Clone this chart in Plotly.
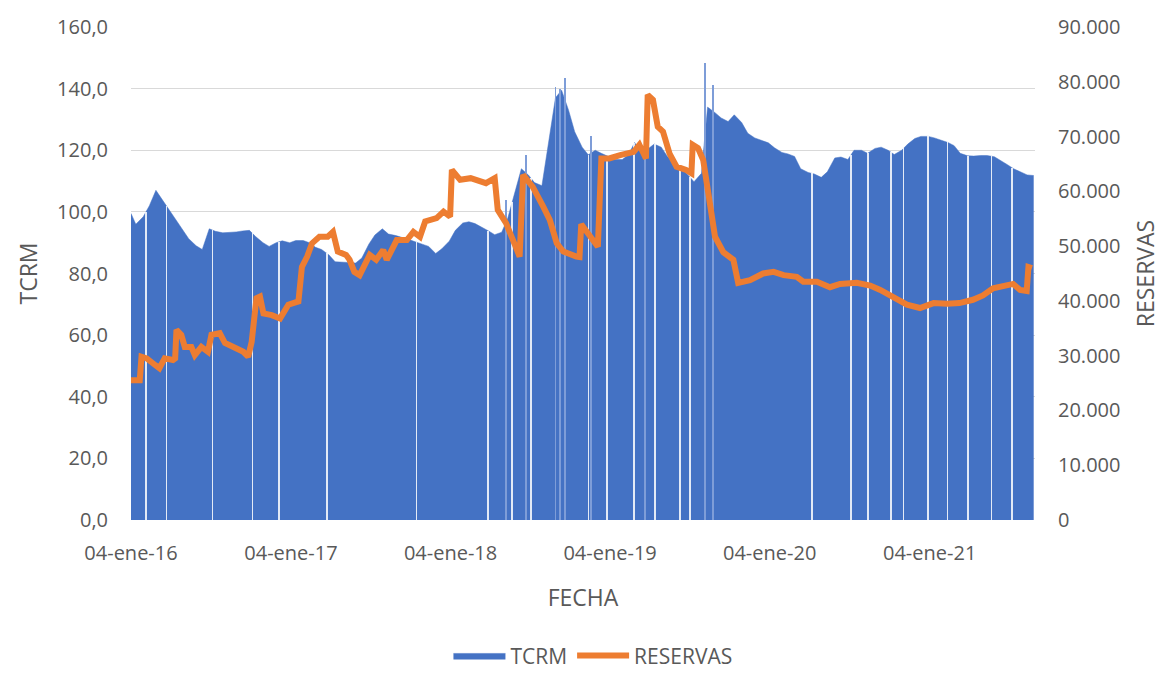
import numpy as np
import pandas as pd
import plotly.graph_objects as go

# ---------------- data ----------------
tcrm_dates = (
    ["2016-01-04"]
    + [d.strftime("%Y-%m-%d") for d in pd.date_range("2016-01-15", "2021-08-15", freq="SMS")]
    + ["2021-08-30"]
)
tcrm_values = [
    # 2016
    99.5, 96, 98.4, 102, 107, 104, 100.5, 97.5, 94.2, 91.3, 89, 87.8,
    94.5, 93.7, 93.2, 93.3, 93.5, 93.8, 94, 92, 90, 88.8, 90, 90.6,
    # 2017
    90, 90.7, 90.7, 90, 88.5, 87.8, 86, 83.8, 83.8, 83.6, 83.4, 85,
    89.5, 92.5, 94.5, 92.8, 92.3, 91.8, 91, 90.3, 89.5, 88.8, 86.5, 88,
    # 2018
    90.5, 94, 96.4, 96.8, 96.2, 95.2, 93.8, 92.6, 93.4, 98, 107, 114,
    112, 109.5, 108.5, 121, 137, 139.5, 133, 126, 121, 118.5, 120, 119,
    # 2019
    117.8, 117, 117, 118.5, 122.5, 119.5, 120.5, 122, 121, 118, 116, 114.5,
    112, 109.8, 112.5, 134, 132.2, 130.5, 129.3, 131.5, 129, 125.5, 124, 123.2,
    # 2020
    122.4, 120.8, 119.3, 118.8, 118, 114, 112.8, 112.3, 111.2, 113, 117.5, 117.8,
    117, 120, 120, 119, 120.6, 121, 120, 118.6, 120, 122, 123.8, 124.5,
    # 2021
    124.5, 124, 123.3, 122.5, 121.5, 119, 118.2, 118.1, 118.3, 118.3, 117.9, 116.8,
    115.3, 114, 112.8, 112,
    111.8,
]

# single-day TCRM peaks (thin spikes)
spike_dates = ["2018-05-11", "2018-06-26", "2018-09-01", "2018-09-12", "2018-09-23",
               "2018-11-22", "2019-03-25", "2019-08-09", "2019-08-28"]
spike_values = [104, 118.5, 140.6, 140, 143.3, 124.6, 124.4, 148.2, 141.2]

# days without data (white gaps in the TCRM bars)
gap_dates = ["2016-02-07", "2016-03-25", "2016-07-08", "2016-10-08", "2016-12-08",
             "2017-03-27", "2017-10-18", "2018-03-31", "2018-05-25", "2018-07-07",
             "2018-11-16", "2018-12-28", "2019-02-28", "2019-04-17", "2019-06-13",
             "2019-07-06", "2020-04-10", "2020-07-08", "2020-08-16", "2020-10-08",
             "2020-11-05", "2020-12-31", "2021-02-14", "2021-04-02", "2021-05-25",
             "2021-07-11"]

res_dates = [
    "2016-01-04", "2016-01-24", "2016-01-28", "2016-02-09", "2016-02-28", "2016-03-09",
    "2016-03-21", "2016-04-09", "2016-04-14", "2016-04-17", "2016-04-28", "2016-05-06",
    "2016-05-21", "2016-05-29", "2016-06-13", "2016-06-28", "2016-07-06", "2016-07-25",
    "2016-08-06", "2016-08-29", "2016-09-17", "2016-09-28", "2016-10-06", "2016-10-17",
    "2016-10-25", "2016-11-02", "2016-11-21", "2016-12-10", "2016-12-29",
    "2017-01-21", "2017-01-29", "2017-02-10", "2017-02-21", "2017-03-10", "2017-03-29",
    "2017-04-10", "2017-04-21", "2017-05-10", "2017-05-18", "2017-05-29", "2017-06-10",
    "2017-07-03", "2017-07-18", "2017-08-03", "2017-08-11", "2017-09-03", "2017-09-26",
    "2017-10-11", "2017-10-26", "2017-11-07", "2017-12-03", "2017-12-19",
    "2018-01-03", "2018-01-07", "2018-01-26", "2018-02-19", "2018-03-07", "2018-03-26",
    "2018-04-15", "2018-04-22", "2018-05-11", "2018-05-26", "2018-06-11", "2018-06-19",
    "2018-07-11", "2018-08-04", "2018-08-19", "2018-09-04", "2018-09-19", "2018-10-19",
    "2018-10-26", "2018-10-30", "2018-11-19", "2018-12-07", "2018-12-15",
    "2019-01-02", "2019-01-27", "2019-02-27", "2019-03-12", "2019-03-27", "2019-03-31",
    "2019-04-12", "2019-04-23", "2019-05-05", "2019-05-20", "2019-06-05", "2019-06-27",
    "2019-07-09", "2019-07-12", "2019-07-24", "2019-08-05", "2019-08-16", "2019-08-24",
    "2019-09-01", "2019-09-20", "2019-10-13", "2019-10-24", "2019-11-20", "2019-12-20",
    "2020-01-13", "2020-02-05", "2020-03-06", "2020-03-21", "2020-04-21", "2020-05-21",
    "2020-06-13", "2020-07-21", "2020-08-21", "2020-09-13", "2020-10-13", "2020-11-13",
    "2020-12-13",
    "2021-01-13", "2021-02-13", "2021-03-13", "2021-04-13", "2021-05-06", "2021-05-29",
    "2021-06-21", "2021-07-14", "2021-07-30", "2021-08-14", "2021-08-18", "2021-08-26",
]
res_values = [
    25500, 25500, 29800, 29500, 28300, 27700, 29500, 29200, 29500, 34700, 33800, 31600,
    31600, 30100, 31600, 30700, 33800, 34100, 32300, 31300, 30700, 29800, 32500, 40500,
    40800, 37700, 37400, 36800, 39300,
    39900, 46200, 48100, 50500, 51700, 51700, 52600, 49000, 48400, 47500, 45300, 44700,
    48400, 47500, 49300, 47500, 51100, 51100, 52600, 51700, 54500, 55100, 56300,
    55400, 63900, 62100, 62400, 61900, 61500, 62400, 56600, 54200, 51100, 48100, 63000,
    60800, 57200, 54800, 50500, 49000, 48100, 48000, 54000, 51700, 49900, 66000,
    66000, 66600, 67200, 68500, 66000, 77600, 76700, 71800, 70900, 66900, 64500, 63900,
    63300, 68500, 67900, 65700, 59600, 56600, 51700, 48900, 47500, 43300, 43800, 45000,
    45300, 44700, 44400, 43500, 43500, 42500, 43100, 43300, 42800, 42000, 40800, 39300,
    38700,
    39600, 39500, 39600, 40200, 41000, 42300, 42600, 43100, 42000, 41800, 46200, 46000,
]

tick_dates = ["2016-01-04", "2017-01-04", "2018-01-04", "2019-01-04", "2020-01-04", "2021-01-04"]
tick_labels = ["04-ene-16", "04-ene-17", "04-ene-18", "04-ene-19", "04-ene-20", "04-ene-21"]

# ---------------- styles ----------------
BLUE = "#4472C4"
ORANGE = "#ED7D31"
TXT = "#595959"
GRID = "#D9D9D9"
FONT = "Open Sans"
DAY_MS = 86400000

# gap heights follow the TCRM outline
t_num = pd.to_datetime(tcrm_dates).astype("int64").to_numpy()
g_num = pd.to_datetime(gap_dates).astype("int64").to_numpy()
gap_heights = np.interp(g_num, t_num, np.array(tcrm_values, dtype=float))

fig = go.Figure()

# TCRM area (primary axis)
fig.add_trace(go.Scatter(
    x=tcrm_dates, y=tcrm_values, name="TCRM", mode="lines",
    line=dict(color=BLUE, width=0.5), fill="tozeroy", fillcolor=BLUE,
    yaxis="y",
))
# spikes and gaps on a hidden overlay axis with the same scale so they draw above the area
fig.add_trace(go.Bar(
    x=spike_dates, y=spike_values, width=[1.6 * DAY_MS] * len(spike_dates),
    marker=dict(color="#7E9DD8", line=dict(width=0)), showlegend=False,
    yaxis="y2",
))
fig.add_trace(go.Bar(
    x=gap_dates, y=gap_heights, width=[3.6 * DAY_MS] * len(gap_dates),
    marker=dict(color="rgba(255,255,255,0.85)", line=dict(width=0)), showlegend=False,
    yaxis="y2",
))
# RESERVAS (secondary axis, right)
fig.add_trace(go.Scatter(
    x=res_dates, y=res_values, name="RESERVAS", mode="lines",
    line=dict(color=ORANGE, width=6), yaxis="y3",
))

fig.update_layout(
    width=1155, height=669,
    paper_bgcolor="white", plot_bgcolor="white",
    separators=",.",
    margin=dict(l=123, r=128, t=19, b=157, autoexpand=False),
    font=dict(family=FONT, size=20, color=TXT),
    barmode="overlay", bargap=0,
    showlegend=True,
    legend=dict(orientation="h", x=0.511, xanchor="center", y=-0.317, yanchor="bottom",
                font=dict(size=21, color=TXT), itemwidth=52, traceorder="normal"),
    xaxis=dict(
        type="date", range=["2016-01-04", "2021-09-02"], automargin=False,
        tickvals=tick_dates, ticktext=tick_labels, ticks="",
        showgrid=False, zeroline=False, showline=False,
        ticklabelstandoff=19,
        title=dict(text="FECHA", standoff=24, font=dict(size=23, color=TXT)),
    ),
    yaxis=dict(
        range=[0, 160], dtick=20, tickformat=".1f", ticks="", automargin=False,
        showgrid=True, gridcolor=GRID, gridwidth=1.3, zeroline=False,
        ticklabelstandoff=22,
        title=dict(text="TCRM", standoff=13, font=dict(size=23, color=TXT)),
    ),
    yaxis2=dict(
        range=[0, 160], overlaying="y", visible=False, automargin=False,
    ),
    yaxis3=dict(
        range=[0, 90000], dtick=10000, tickformat=",d", ticks="", automargin=False,
        overlaying="y", side="right", showgrid=False, zeroline=False,
        ticklabelstandoff=22,
        title=dict(text="RESERVAS", standoff=18, font=dict(size=23, color=TXT)),
    ),
)

fig.write_html("out.html")
